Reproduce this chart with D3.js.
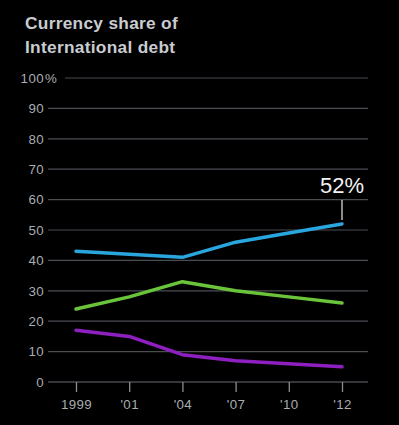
<!DOCTYPE html>
<html>
<head>
<meta charset="utf-8">
<script src="https://cdn.jsdelivr.net/npm/d3@7"></script>
<style>
  html, body { margin: 0; padding: 0; background: #000; }
  svg { display: block; }
</style>
</head>
<body>
<div class="chart"></div>
<script>
// chart data
const years = ["1999", "'01", "'04", "'07", "'10", "'12"];
const dollar = [43, 42, 41, 46, 49, 52];
const euro = [24, 28, 33, 30, 28, 26];
const yen = [17, 15, 9, 7, 6, 5];
const yTicks = [0, 10, 20, 30, 40, 50, 60, 70, 80, 90, 100];
const titleLines = ["Currency share of", "International debt"];
const endLabel = "52%";

const W = 399, H = 425;
const svg = d3.select(".chart").append("svg")
  .attr("width", W).attr("height", H);

svg.append("rect").attr("width", W).attr("height", H).attr("fill", "#000");

// title
svg.append("text")
  .attr("x", 25).attr("y", 29)
  .attr("fill", "#c9ccd1")
  .attr("font-family", "Liberation Sans, Arial, sans-serif")
  .attr("font-weight", "bold")
  .attr("font-size", 17.3)
  .attr("letter-spacing", 0.3)
  .selectAll("tspan").data(titleLines).enter().append("tspan")
  .attr("x", 25).attr("dy", (d, i) => i ? 23.5 : 0)
  .text(d => d);

// scales
const x = d3.scalePoint().domain(years).range([76, 342]);
const y = d3.scaleLinear().domain([0, 100]).range([382, 78]);

// grid
const grid = svg.append("g");
grid.selectAll("line").data(yTicks).enter().append("line")
  .attr("x1", d => d === 100 ? 65 : 48)
  .attr("x2", 368)
  .attr("y1", d => y(d)).attr("y2", d => y(d))
  .attr("stroke", d => d === 0 ? "#6a6d72" : "#4a4d52")
  .attr("stroke-width", 1.2);

// y labels
const yl = svg.append("g")
  .attr("font-family", "Liberation Sans, Arial, sans-serif")
  .attr("font-size", 13.3)
  .attr("letter-spacing", 0.4)
  .attr("fill", "#a9acb1");
yl.selectAll("text").data(yTicks).enter().append("text")
  .attr("x", 44).attr("y", d => y(d) + 4.8)
  .attr("text-anchor", "end")
  .text(d => d);
yl.append("text")
  .attr("x", 45).attr("y", y(100) + 4.8)
  .text("%");

// x axis
const xa = svg.append("g")
  .attr("transform", `translate(0,${y(0)})`)
  .call(d3.axisBottom(x).tickSize(10).tickPadding(8));
xa.select(".domain").remove();
xa.selectAll(".tick line").attr("stroke", "#8a8d92").attr("stroke-width", 1.3);
xa.selectAll(".tick text")
  .attr("fill", "#a9acb1")
  .attr("font-family", "Liberation Sans, Arial, sans-serif")
  .attr("font-size", 13.3)
  .attr("letter-spacing", 0.4);

// lines
const line = d3.line().x((d, i) => x(years[i])).y(d => y(d));
[[dollar, "#29a6dd"], [euro, "#6ac43a"], [yen, "#8e1fc0"]].forEach(([s, c]) => {
  svg.append("path").datum(s)
    .attr("d", line)
    .attr("fill", "none")
    .attr("stroke", c)
    .attr("stroke-width", 3.5)
    .attr("stroke-linejoin", "round")
    .attr("stroke-linecap", "round");
});

// end label
const lastX = x(years[years.length - 1]);
const lastY = y(dollar[dollar.length - 1]);
svg.append("line")
  .attr("x1", lastX).attr("x2", lastX)
  .attr("y1", lastY - 24).attr("y2", lastY - 4)
  .attr("stroke", "#d8d8d8").attr("stroke-width", 1.3);
svg.append("text")
  .attr("x", lastX).attr("y", lastY - 31)
  .attr("text-anchor", "middle")
  .attr("fill", "#f2f2f2")
  .attr("font-family", "Liberation Sans, Arial, sans-serif")
  .attr("font-size", 22)
  .text(endLabel);
</script>
</body>
</html>
